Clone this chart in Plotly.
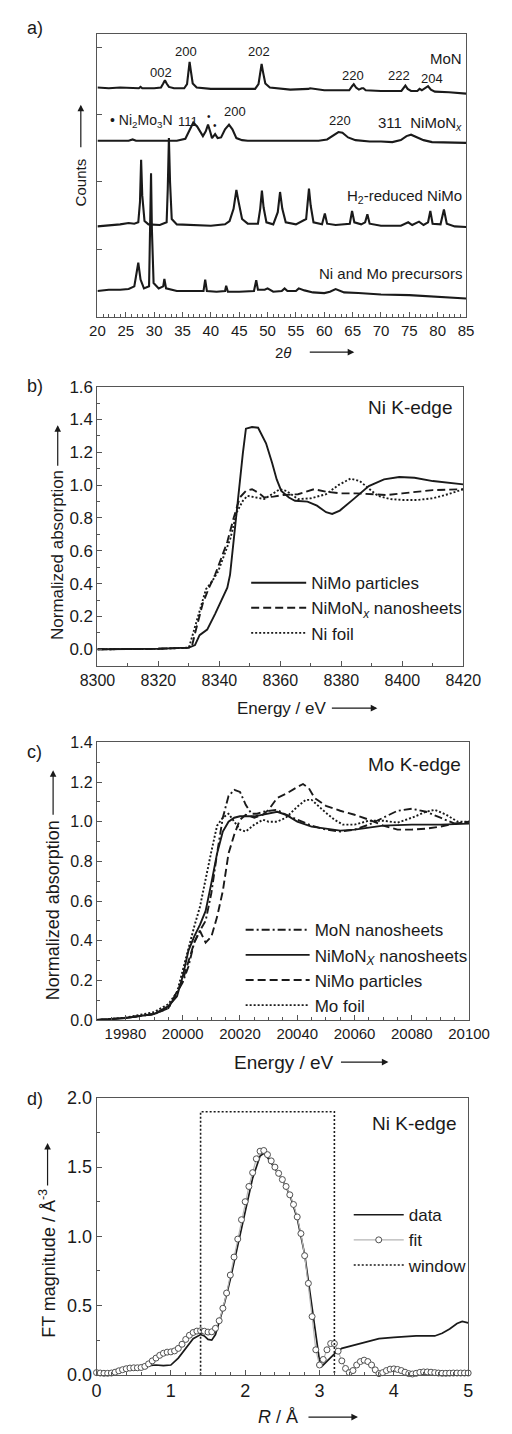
import plotly.graph_objects as go

# ---------------- data ----------------
# a) XRD patterns (2theta in degrees, counts in arbitrary offset units)
mon_tt = [20.0, 22.0, 24.0, 26.0, 27.3, 27.6, 27.9, 30.0, 31.2, 31.6, 31.9, 32.2, 32.6, 33.5, 35.3, 35.8, 36.1, 36.25, 36.45, 36.8, 37.5, 40.0, 44.0, 47.8, 48.4, 48.75, 48.95, 49.2, 49.6, 50.4, 54.0, 57.2, 57.5, 60.0, 64.4, 64.9, 65.2, 65.6, 66.1, 66.6, 66.9, 67.3, 70.0, 73.6, 74.0, 74.3, 74.7, 75.3, 76.4, 76.8, 77.2, 77.9, 78.3, 78.8, 79.5, 82.0, 85.0]
mon_cts = [3.40, 3.39, 3.40, 3.39, 3.39, 3.41, 3.39, 3.39, 3.40, 3.46, 3.51, 3.46, 3.41, 3.39, 3.39, 3.45, 3.72, 3.78, 3.66, 3.46, 3.40, 3.38, 3.38, 3.38, 3.45, 3.68, 3.75, 3.63, 3.46, 3.40, 3.37, 3.38, 3.39, 3.36, 3.36, 3.42, 3.45, 3.40, 3.37, 3.39, 3.39, 3.36, 3.35, 3.35, 3.40, 3.43, 3.38, 3.35, 3.35, 3.38, 3.36, 3.40, 3.42, 3.37, 3.34, 3.33, 3.31]

nimon_tt = [20.0, 23.0, 25.5, 26.2, 26.8, 30.0, 34.0, 35.5, 36.2, 36.9, 37.6, 38.6, 39.1, 39.5, 39.9, 40.2, 40.75, 41.2, 41.8, 42.5, 43.2, 43.8, 44.5, 45.5, 46.5, 50.0, 55.0, 59.0, 60.5, 61.5, 62.5, 63.2, 64.2, 65.5, 68.0, 70.0, 72.0, 73.5, 74.5, 75.3, 76.2, 77.5, 79.0, 82.0, 85.0]
nimon_cts = [2.61, 2.61, 2.61, 2.63, 2.61, 2.61, 2.61, 2.64, 2.76, 2.88, 2.82, 2.68, 2.75, 2.85, 2.74, 2.65, 2.71, 2.65, 2.66, 2.78, 2.85, 2.78, 2.65, 2.62, 2.61, 2.61, 2.60, 2.61, 2.63, 2.69, 2.74, 2.73, 2.66, 2.62, 2.60, 2.60, 2.59, 2.62, 2.68, 2.70, 2.67, 2.62, 2.59, 2.58, 2.58]

h2_tt = [20.0, 22.0, 24.0, 25.5, 26.5, 27.2, 27.5, 27.7, 27.9, 28.3, 29.0, 31.0, 32.2, 32.4, 32.6, 32.8, 33.1, 34.0, 36.0, 40.0, 42.5, 43.3, 44.0, 44.5, 44.9, 45.5, 46.5, 48.3, 48.7, 49.0, 49.3, 49.8, 51.0, 51.8, 52.2, 52.6, 53.2, 55.0, 56.8, 57.1, 57.3, 57.6, 58.1, 59.6, 60.1, 60.5, 62.0, 64.5, 64.9, 65.3, 66.5, 67.2, 67.6, 68.0, 70.0, 73.5, 74.8, 75.5, 76.7, 77.5, 78.3, 78.7, 79.1, 80.5, 81.1, 81.6, 83.0, 85.0]
h2_cts = [1.34, 1.35, 1.37, 1.39, 1.38, 1.40, 1.70, 2.33, 1.80, 1.42, 1.37, 1.36, 1.40, 1.90, 2.65, 2.00, 1.45, 1.37, 1.36, 1.35, 1.37, 1.42, 1.60, 1.88, 1.70, 1.45, 1.38, 1.38, 1.60, 1.87, 1.62, 1.40, 1.37, 1.55, 1.85, 1.60, 1.40, 1.37, 1.45, 1.75, 1.90, 1.65, 1.40, 1.37, 1.53, 1.38, 1.36, 1.38, 1.57, 1.40, 1.37, 1.40, 1.52, 1.38, 1.35, 1.35, 1.40, 1.36, 1.41, 1.36, 1.40, 1.57, 1.38, 1.37, 1.59, 1.38, 1.34, 1.33]

prec_tt = [20.0, 22.0, 24.0, 25.5, 26.5, 27.2, 27.6, 28.2, 29.1, 29.3, 29.45, 29.6, 29.9, 30.8, 31.6, 31.8, 32.1, 34.0, 36.0, 38.7, 39.0, 39.3, 41.0, 42.5, 42.7, 43.0, 45.0, 47.6, 48.0, 48.3, 49.5, 50.0, 51.0, 52.5, 53.0, 53.5, 55.0, 55.5, 56.5, 58.0, 60.0, 61.0, 62.0, 63.5, 66.0, 70.0, 75.0, 80.0, 85.0]
prec_cts = [0.38, 0.40, 0.40, 0.41, 0.45, 0.80, 0.55, 0.42, 0.45, 1.40, 2.13, 1.30, 0.50, 0.42, 0.45, 0.56, 0.42, 0.38, 0.38, 0.38, 0.55, 0.38, 0.37, 0.38, 0.46, 0.37, 0.37, 0.38, 0.54, 0.40, 0.40, 0.42, 0.37, 0.38, 0.42, 0.38, 0.38, 0.42, 0.39, 0.36, 0.35, 0.37, 0.41, 0.36, 0.35, 0.33, 0.32, 0.29, 0.27]

# b) Ni K-edge XANES
nimo_b_e = [8300, 8320, 8330, 8332, 8333.5, 8336, 8338.6, 8340.1, 8342.6, 8343.5, 8344.6, 8346.5, 8347.7, 8348.7, 8350.7, 8352.7, 8355.3, 8357.3, 8358.8, 8360.3, 8362.8, 8364.8, 8368.9, 8372, 8375, 8377, 8379.5, 8384, 8389, 8394, 8399, 8404, 8410, 8420]
nimo_b_mu = [0.0, 0.003, 0.01, 0.026, 0.086, 0.12, 0.216, 0.276, 0.376, 0.455, 0.655, 0.975, 1.195, 1.344, 1.354, 1.35, 1.255, 1.135, 1.035, 0.965, 0.925, 0.905, 0.90, 0.875, 0.835, 0.825, 0.845, 0.915, 0.994, 1.035, 1.05, 1.045, 1.025, 1.005]
nimon_b_e = [8300, 8320, 8330, 8331, 8332, 8334.5, 8336.6, 8338.6, 8340.6, 8342.6, 8344.6, 8346.7, 8348.7, 8350.7, 8352.7, 8354.7, 8357.7, 8360.8, 8365.8, 8371, 8375, 8380, 8385, 8390, 8395, 8400, 8405, 8410, 8420]
nimon_b_mu = [0.0, 0.003, 0.01, 0.02, 0.096, 0.276, 0.376, 0.455, 0.555, 0.655, 0.795, 0.925, 0.965, 0.975, 0.955, 0.925, 0.93, 0.94, 0.945, 0.975, 0.96, 0.95, 0.95, 0.945, 0.94, 0.95, 0.96, 0.97, 0.975]
nifoil_e = [8300, 8320, 8330, 8332, 8333.5, 8335.6, 8337.6, 8339.6, 8341.6, 8343.6, 8345.7, 8347.7, 8349.2, 8350.7, 8352.7, 8354.7, 8357.7, 8359.8, 8362, 8365.8, 8370, 8375, 8379, 8383, 8386, 8388, 8392, 8396, 8400, 8405, 8410, 8415, 8420]
nifoil_mu = [0.0, 0.003, 0.01, 0.136, 0.246, 0.366, 0.415, 0.475, 0.575, 0.675, 0.835, 0.905, 0.935, 0.93, 0.92, 0.915, 0.95, 0.975, 0.965, 0.915, 0.92, 0.945, 1.0, 1.04, 1.025, 0.995, 0.935, 0.915, 0.91, 0.91, 0.92, 0.945, 0.975]

# c) Mo K-edge XANES
mon_c_e = [19970, 19980, 19990, 19995, 20000, 20002, 20004, 20006, 20008, 20010, 20012, 20014, 20016, 20018, 20020, 20022, 20024, 20026, 20028, 20030, 20033, 20036, 20040, 20045, 20050, 20055, 20060, 20065, 20070, 20075, 20080, 20085, 20090, 20095, 20100]
mon_c_mu = [0.0, 0.01, 0.03, 0.06, 0.19, 0.27, 0.39, 0.45, 0.50, 0.64, 0.84, 1.02, 1.13, 1.16, 1.15, 1.085, 1.04, 1.04, 1.05, 1.055, 1.06, 1.035, 1.01, 0.98, 0.96, 0.95, 0.96, 0.985, 1.02, 1.055, 1.065, 1.05, 1.02, 0.99, 1.0]
nimon_c_e = [19970, 19980, 19990, 19995, 19998, 20000, 20002, 20004, 20006, 20008, 20010, 20012, 20014, 20016, 20018, 20020, 20025, 20030, 20033, 20036, 20040, 20045, 20050, 20055, 20060, 20065, 20070, 20080, 20090, 20100]
nimon_c_mu = [0.0, 0.01, 0.03, 0.07, 0.12, 0.22, 0.35, 0.42, 0.48, 0.55, 0.69, 0.84, 0.95, 1.0, 1.02, 1.027, 1.027, 1.04, 1.05, 1.035, 1.0, 0.975, 0.965, 0.955, 0.96, 0.97, 0.98, 0.985, 0.985, 0.99]
nimo_c_e = [19970, 19980, 19990, 19995, 20000, 20002, 20004, 20006, 20008, 20010, 20012, 20014, 20016, 20018, 20020, 20022, 20025, 20028, 20030, 20033, 20036, 20040, 20042, 20044, 20046, 20050, 20055, 20060, 20065, 20070, 20075, 20080, 20085, 20090, 20095, 20100]
nimo_c_mu = [0.0, 0.01, 0.03, 0.06, 0.20, 0.30, 0.39, 0.45, 0.39, 0.42, 0.52, 0.65, 0.84, 0.935, 1.01, 1.035, 1.02, 1.035, 1.06, 1.12, 1.14, 1.175, 1.19, 1.17, 1.12, 1.08, 1.055, 1.035, 1.01, 0.98, 0.96, 0.96, 0.965, 0.975, 0.99, 1.0]
mofoil_e = [19970, 19980, 19990, 19995, 19998, 20000, 20002, 20004, 20006, 20008, 20010, 20012, 20014, 20016, 20018, 20020, 20022, 20025, 20028, 20030, 20033, 20036, 20040, 20043, 20045, 20048, 20050, 20053, 20056, 20060, 20065, 20070, 20075, 20080, 20085, 20088, 20092, 20096, 20100]
mofoil_mu = [0.0, 0.012, 0.04, 0.08, 0.14, 0.25, 0.37, 0.47, 0.57, 0.72, 0.85, 0.98, 1.02, 1.04, 1.0, 0.96, 0.95, 0.985, 1.01, 1.0, 1.0, 1.02, 1.075, 1.11, 1.11, 1.07, 1.045, 1.01, 0.985, 0.985, 1.005, 1.005, 0.995, 1.02, 1.05, 1.06, 1.035, 1.0, 1.0]

# d) Ni K-edge EXAFS Fourier transform
data_r = [0.0, 0.2, 0.4, 0.6, 0.7, 0.8, 0.9, 1.0, 1.1, 1.2, 1.3, 1.4, 1.45, 1.5, 1.55, 1.6, 1.7, 1.8, 1.9, 2.0, 2.1, 2.2, 2.25, 2.3, 2.4, 2.5, 2.6, 2.7, 2.8, 2.9, 2.95, 3.0, 3.03, 3.1, 3.2, 3.3, 3.5, 3.8, 4.0, 4.3, 4.55, 4.65, 4.75, 4.85, 4.92, 5.0]
data_ft = [0.02, 0.02, 0.04, 0.05, 0.065, 0.07, 0.065, 0.07, 0.12, 0.19, 0.26, 0.29, 0.28, 0.255, 0.25, 0.29, 0.47, 0.69, 0.94, 1.19, 1.42, 1.58, 1.60, 1.57, 1.49, 1.41, 1.30, 1.13, 0.87, 0.48, 0.27, 0.10, 0.06, 0.10, 0.15, 0.19, 0.22, 0.26, 0.27, 0.28, 0.28, 0.30, 0.33, 0.37, 0.385, 0.375]
fit_r = [0.00, 0.05, 0.10, 0.15, 0.20, 0.25, 0.30, 0.35, 0.40, 0.45, 0.50, 0.55, 0.60, 0.65, 0.70, 0.75, 0.80, 0.85, 0.90, 0.95,
         1.00, 1.05, 1.10, 1.15, 1.20, 1.25, 1.30, 1.35, 1.40, 1.45, 1.50, 1.55, 1.60, 1.65, 1.70, 1.75, 1.80, 1.85, 1.90, 1.95,
         2.00, 2.05, 2.10, 2.15, 2.20, 2.25, 2.30, 2.35, 2.40, 2.45, 2.50, 2.55, 2.60, 2.65, 2.70, 2.75, 2.80, 2.85, 2.90, 2.95,
         3.00, 3.05, 3.10, 3.15, 3.20, 3.25, 3.30, 3.35, 3.40, 3.45, 3.50, 3.55, 3.60, 3.65, 3.70, 3.75, 3.80, 3.85, 3.90, 3.95,
         4.00, 4.05, 4.10, 4.15, 4.20, 4.25, 4.30, 4.35, 4.40, 4.45, 4.50, 4.55, 4.60, 4.65, 4.70, 4.75, 4.80, 4.85, 4.90, 4.95, 5.00]
fit_ft = [0.015, 0.012, 0.010, 0.010, 0.012, 0.018, 0.028, 0.036, 0.043, 0.048, 0.050, 0.050, 0.052, 0.060, 0.078, 0.100, 0.120, 0.140, 0.155, 0.163,
          0.165, 0.172, 0.190, 0.220, 0.255, 0.285, 0.305, 0.315, 0.318, 0.314, 0.308, 0.310, 0.335, 0.390, 0.480, 0.590, 0.720, 0.850, 0.980, 1.120,
          1.250, 1.360, 1.460, 1.560, 1.615, 1.620, 1.590, 1.545, 1.500, 1.455, 1.410, 1.360, 1.300, 1.230, 1.140, 1.020, 0.860, 0.660, 0.420, 0.180,
          0.070, 0.110, 0.180, 0.225, 0.225, 0.170, 0.100, 0.045, 0.015, 0.030, 0.070, 0.095, 0.105, 0.095, 0.070, 0.035, 0.008, 0.015, 0.030, 0.040,
          0.042, 0.038, 0.030, 0.018, 0.008, 0.005, 0.010, 0.017, 0.020, 0.020, 0.018, 0.015, 0.012, 0.010, 0.010, 0.011, 0.012, 0.012, 0.012, 0.012, 0.012]
window_r = [1.4, 3.2]
window_h = 1.9

# peak labels for a)
mon_hkl = ["002", "200", "202", "220", "222", "204"]
mon_hkl_tt = [31.2, 35.6, 48.5, 65.0, 73.1, 79.0]
mon_hkl_y = [3.62, 3.94, 3.93, 3.58, 3.58, 3.53]
nimon_hkl = ["111", "•", "•", "200", "220"]
nimon_hkl_tt = [35.9, 39.7, 40.7, 44.3, 62.7]
nimon_hkl_y = [2.89, 2.97, 2.84, 3.05, 2.91]

# ---------------- layout helpers ----------------
W, H = 512, 1434
FONT = "Liberation Sans, Arial, sans-serif"
INK = "#1a1a1a"
FRAME = "#555555"

def X(px):
    return px / W

def Y(py):
    return 1 - py / H

boxes = {  # left, right, top, bottom in px
    "a": (86, 485, 24, 311),
    "b": (86, 482, 382, 665),
    "c": (85.3, 488.3, 742.7, 1024.3),
    "d": (85, 487.3, 1103.3, 1384),
}

fig = go.Figure()

def line(x, y, xa, ya, name=None, dash="solid", width=1.7, legend=None, show=True):
    fig.add_trace(go.Scatter(x=x, y=y, xaxis=xa, yaxis=ya, mode="lines", name=name,
                             line=dict(color=INK, width=width, dash=dash),
                             showlegend=show, legend=legend, hoverinfo="skip"))

# a)
for xx, yy in [(mon_tt, mon_cts), (nimon_tt, nimon_cts), (h2_tt, h2_cts), (prec_tt, prec_cts)]:
    line(xx, yy, "x", "y", width=2.1, show=False)

DASH = "8px,4px"
DOT = "2px,2px"
DASHDOT = "8px,3px,2px,3px"

# b)
line(nimo_b_e, nimo_b_mu, "x2", "y2", "NiMo particles", "solid", 1.9, "legend")
line(nimon_b_e, nimon_b_mu, "x2", "y2", "NiMoN<sub><i>x</i></sub> nanosheets", DASH, 1.9, "legend")
line(nifoil_e, nifoil_mu, "x2", "y2", "Ni foil", DOT, 1.9, "legend")

# c)
line(mon_c_e, mon_c_mu, "x3", "y3", "MoN nanosheets", DASHDOT, 1.9, "legend2")
line(nimon_c_e, nimon_c_mu, "x3", "y3", "NiMoN<sub><i>X</i></sub> nanosheets", "solid", 1.9, "legend2")
line(nimo_c_e, nimo_c_mu, "x3", "y3", "NiMo particles", DASH, 1.9, "legend2")
line(mofoil_e, mofoil_mu, "x3", "y3", "Mo foil", DOT, 1.9, "legend2")

# d)
line(data_r, data_ft, "x4", "y4", "data", "solid", 1.7, "legend3")
fig.add_trace(go.Scatter(x=fit_r, y=fit_ft, xaxis="x4", yaxis="y4", mode="lines+markers", name="fit",
                         line=dict(color="#b5b5b5", width=1.2),
                         marker=dict(symbol="circle", size=6, color="white", line=dict(color="#505050", width=1)),
                         legend="legend3", cliponaxis=False, hoverinfo="skip"))
fig.add_trace(go.Scatter(x=[window_r[0], window_r[0], window_r[1], window_r[1]], y=[0, window_h, window_h, 0],
                         xaxis="x4", yaxis="y4", mode="lines", name="window",
                         line=dict(color=INK, width=1.6, dash=DOT), legend="legend3", hoverinfo="skip"))

def axis(key, rng, dtick, minor, tsize, fmt=None, labels=True, tick0=None, horiz=True):
    l, r, t, b = boxes[key]
    dom = [X(l), X(r)] if horiz else [Y(b), Y(t)]
    d = dict(domain=dom, range=rng, dtick=dtick, ticks="inside", ticklen=5, tickwidth=1,
             tickcolor=FRAME, showline=True, linecolor=FRAME, linewidth=1, mirror=True,
             showgrid=False, zeroline=False, showticklabels=labels, fixedrange=True,
             tickfont=dict(family=FONT, size=tsize, color=INK),
             minor=dict(ticks="inside", ticklen=3, dtick=minor, tickcolor=FRAME, showgrid=False))
    if fmt:
        d["tickformat"] = fmt
    if tick0 is not None:
        d["tick0"] = tick0
    return d

fig.update_layout(
    width=W, height=H, autosize=False, margin=dict(l=0, r=0, t=0, b=0),
    paper_bgcolor="white", plot_bgcolor="white",
    font=dict(family=FONT, color=INK),
    xaxis=dict(axis("a", [20, 85], 5, 1, 15, fmt="d"), anchor="y"),
    yaxis=dict(axis("a", [0, 4.2], 1, 0.5, 15, labels=False, horiz=False), anchor="x", minor=dict(ticks="")),
    xaxis2=dict(axis("b", [8300, 8420], 20, 10, 16, fmt="d"), anchor="y2"),
    yaxis2=dict(axis("b", [-0.1, 1.6], 0.2, 0.1, 17, fmt=".1f", horiz=False), anchor="x2", tick0=0),
    xaxis3=dict(axis("c", [19970, 20100], 20, 5, 15, fmt="d", tick0=19980), anchor="y3"),
    yaxis3=dict(axis("c", [0, 1.4], 0.2, 0.1, 16, fmt=".1f", horiz=False), anchor="x3"),
    xaxis4=dict(axis("d", [0, 5], 1, 0.2, 18, fmt="d"), anchor="y4"),
    yaxis4=dict(axis("d", [0, 2.0], 0.5, 0.25, 18, fmt=".1f", horiz=False), anchor="x4"),
)

leg_common = dict(bgcolor="rgba(0,0,0,0)", borderwidth=0, xanchor="left", yanchor="top",
                  font=dict(family=FONT, size=17, color=INK), tracegroupgap=0)
fig.update_layout(
    legend=dict(leg_common, x=X(247), y=Y(563), itemwidth=55),
    legend2=dict(leg_common, x=X(241), y=Y(915), itemwidth=64),
    legend3=dict(leg_common, x=X(358), y=Y(1204), itemwidth=50),
)

ann = []

def txt(s, px, py, size, xanchor="center", angle=0, yanchor="middle"):
    ann.append(dict(text=s, x=X(px), y=Y(py), xref="paper", yref="paper", showarrow=False,
                    xanchor=xanchor, yanchor=yanchor, textangle=angle,
                    font=dict(family=FONT, size=size, color=INK)))

def arrow(x0, y0, x1, y1):
    ann.append(dict(text="", x=X(x1), y=Y(y1), xref="paper", yref="paper", showarrow=True,
                    ax=x0 - x1, ay=y0 - y1, axref="pixel", ayref="pixel",
                    arrowhead=2, arrowsize=1.1, arrowwidth=1.2, arrowcolor=INK))

# panel letters
txt("a)", 18, 18, 18)
txt("b)", 18, 381, 18)
txt("c)", 18, 752, 18)
txt("d)", 18, 1104, 18)

# a) labels
for s, xx, yy in zip(mon_hkl, mon_hkl_tt, mon_hkl_y):
    ann.append(dict(text=s, x=xx, y=yy, xref="x", yref="y", showarrow=False,
                    font=dict(family=FONT, size=13, color=INK)))
for s, xx, yy in zip(nimon_hkl, nimon_hkl_tt, nimon_hkl_y):
    ann.append(dict(text=s, x=xx, y=yy, xref="x", yref="y", showarrow=False,
                    font=dict(family=FONT, size=13 if s != "•" else 10, color=INK)))
ann.append(dict(text="• Ni<sub>2</sub>Mo<sub>3</sub>N", x=21.9, y=2.9, xref="x", yref="y", showarrow=False,
                xanchor="left", font=dict(family=FONT, size=14, color=INK)))
for s, yy in [("MoN", 3.83), ("311  NiMoN<sub><i>x</i></sub>", 2.86), ("H<sub>2</sub>-reduced NiMo", 1.79),
              ("Ni and Mo precursors", 0.645)]:
    ann.append(dict(text=s, x=84.6, y=yy, xref="x", yref="y", showarrow=False, xanchor="right",
                    font=dict(family=FONT, size=15, color=INK)))
txt("2<i>θ</i>", 287, 347, 15)
arrow(318, 347, 364, 347)
txt("Counts", 68, 175, 15, angle=-90)
arrow(68, 140, 68, 96)

# b)
txt("Ni K-edge", 473, 403, 19, xanchor="right")
txt("Energy / eV", 285, 708, 17)
arrow(342, 708, 389, 708)
txt("Normalized absorption", 43, 553, 17, angle=-90)
arrow(43, 463, 43, 421)

# c)
txt("Mo K-edge", 482, 765, 19, xanchor="right")
txt("Energy / eV", 288, 1067, 19)
arrow(352, 1067, 401, 1067)
txt("Normalized absorption", 38, 913, 18, angle=-90)
arrow(38, 817, 38, 771)

# d)
txt("Ni K-edge", 477, 1129, 19, xanchor="right")
txt("<i>R</i> / Å", 281, 1427, 18)
arrow(317, 1427, 368, 1427)
txt("FT magnitude / Å<sup>-3</sup>", 32, 1271, 18, angle=-90)
arrow(32, 1193, 32, 1149)

fig.update_layout(annotations=ann)

fig.write_html("out.html", config={"displayModeBar": False, "staticPlot": True},
               post_script="document.body.style.margin='0';document.body.style.overflow='hidden';")
